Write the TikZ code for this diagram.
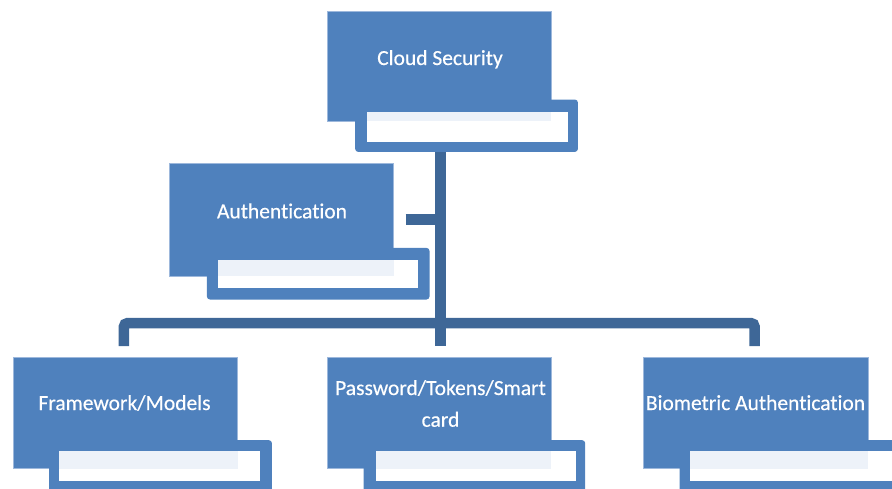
\documentclass[tikz,border=0pt]{standalone}
\usepackage{fontspec}
\setmainfont{Carlito}
\newfontfamily\boxfont{Carlito}[FakeBold=0.4, Ligatures=NoCommon]
\definecolor{acc}{HTML}{4F81BD}
\definecolor{conncol}{HTML}{3E6797}
\definecolor{tint}{HTML}{EDF2F9}
\definecolor{edgecol}{HTML}{9DB8DC}
\tikzset{
  mainbox/.style={fill=acc, draw=edgecol, line width=0.6pt, anchor=north west, inner sep=0pt},
  subbox/.style={fill=acc, rounded corners=3pt, anchor=north west, inner sep=0pt},
  innerbox/.style={fill=white, anchor=north west, inner sep=0pt},
  tintbox/.style={fill=tint, anchor=north west, inner sep=0pt},
  txt/.style={text=white, font=\boxfont\fontsize{21.5}{31.7}\selectfont, inner sep=0pt},
  connector/.style={draw=conncol, line width=10.5pt, line cap=butt},
}
\begin{document}
\begin{tikzpicture}[x=1pt,y=-1pt]
\useasboundingbox (0,0) rectangle (892,488);
\clip (0,0) rectangle (892,488);

% ---------- connectors ----------
\coordinate (trunkTop) at (440.5,151.7);
\coordinate (trunkBot) at (440.5,346);
\coordinate (authStub) at (405.5,219.5);
\coordinate (authJoin) at (440.5,219.5);
\coordinate (fwTop) at (123.8,346);
\coordinate (bmTop) at (754.7,346);
\coordinate (fwCorner) at (123.8,323);
\coordinate (bmCorner) at (754.7,323);
\draw[connector] (trunkTop) -- (trunkBot);
\draw[connector] (authStub) -- (authJoin);
\draw[connector, rounded corners=4pt] (fwTop) -- (fwCorner) -- (bmCorner) -- (bmTop);

% ---------- Cloud Security ----------
\node[mainbox, minimum width=223.7pt, minimum height=109.7pt] (cs) at (327.3,11) {};
\node[subbox, minimum width=222.7pt, minimum height=52.4pt] (css) at (355,99.3) {};
\node[innerbox, minimum width=201pt, minimum height=30pt] (csi) at (366.7,111.7) {};
\node[tintbox, minimum width=184.3pt, minimum height=9pt] (cst) at (366.7,111.7) {};
\node[txt, anchor=base] (cstx) at (440,65) {Cloud Security};

% ---------- Authentication ----------
\node[mainbox, minimum width=224.3pt, minimum height=112.7pt] (au) at (169,163.3) {};
\node[subbox, minimum width=222.6pt, minimum height=51.6pt] (aus) at (206.7,247.7) {};
\node[innerbox, minimum width=200.4pt, minimum height=27.7pt] (aui) at (217.3,260) {};
\node[tintbox, minimum width=176pt, minimum height=16pt] (aut) at (217.3,260) {};
\node[txt, anchor=base] (autx) at (282,218.3) {Authentication};

% ---------- Framework/Models ----------
\node[mainbox, minimum width=224.6pt, minimum height=111.6pt] (fw) at (12.7,356.7) {};
\node[subbox, minimum width=222.7pt, minimum height=52pt] (fws) at (49,440) {};
\node[innerbox, minimum width=201pt, minimum height=30pt] (fwi) at (59,450.7) {};
\node[tintbox, minimum width=178.3pt, minimum height=17.6pt] (fwt) at (59,450.7) {};
\node[txt, anchor=base] (fwtx) at (124.5,410) {Framework/Models};

% ---------- Password/Tokens/Smart card ----------
\node[mainbox, minimum width=223.7pt, minimum height=111.6pt] (pw) at (327.3,356.7) {};
\node[subbox, minimum width=221.7pt, minimum height=52pt] (pws) at (363.3,440) {};
\node[innerbox, minimum width=200pt, minimum height=30pt] (pwi) at (375.7,450.7) {};
\node[tintbox, minimum width=175.3pt, minimum height=17.6pt] (pwt) at (375.7,450.7) {};
\node[txt, anchor=base, align=center] (pwtx) at (440.5,426.7) {Password/Tokens/Smart\\card};

% ---------- Biometric Authentication ----------
\node[mainbox, minimum width=224.4pt, minimum height=111.6pt] (bm) at (643.3,356.7) {};
\node[subbox, minimum width=222.7pt, minimum height=52pt] (bms) at (679.3,440) {};
\node[innerbox, minimum width=205pt, minimum height=30pt] (bmi) at (689.3,450.7) {};
\node[tintbox, minimum width=178.4pt, minimum height=17.6pt] (bmt) at (689.3,450.7) {};
\node[txt, anchor=base] (bmtx) at (755.5,410) {Biometric Authentication};
\end{tikzpicture}
\end{document}
